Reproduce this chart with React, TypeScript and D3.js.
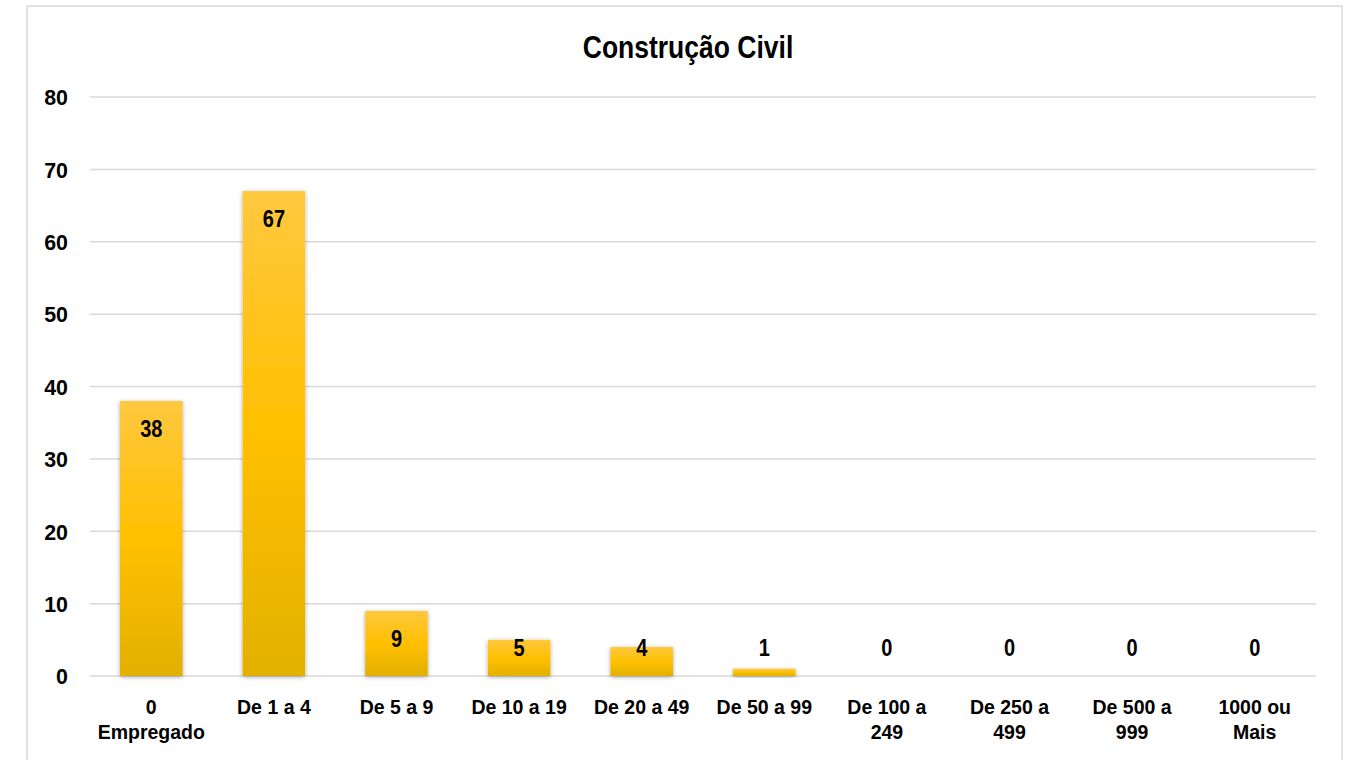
import React from "react";
import * as d3 from "d3";

const title = "Construção Civil";
const categories = [
  ["0", "Empregado"],
  ["De 1 a 4"],
  ["De 5 a 9"],
  ["De 10 a 19"],
  ["De 20 a 49"],
  ["De 50 a 99"],
  ["De 100 a", "249"],
  ["De 250 a", "499"],
  ["De 500 a", "999"],
  ["1000 ou", "Mais"],
];
const values = [38, 67, 9, 5, 4, 1, 0, 0, 0, 0];
const yTicks = [0, 10, 20, 30, 40, 50, 60, 70, 80];

const W = 1352;
const H = 760;
const FONT = "'Liberation Sans', Arial, sans-serif";

function T({ x, y, sx = 1, size, anchor = "middle", dy, children }: any) {
  return (
    <text
      transform={`translate(${x},${y}) scale(${sx},1)`}
      dy={dy}
      textAnchor={anchor}
      fontFamily={FONT}
      fontWeight="bold"
      fontSize={size}
      fill="#000"
    >
      {children}
    </text>
  );
}

export default function App() {
  const margin = { left: 90, right: 1316, top: 97, bottom: 676 };
  const x = d3
    .scaleBand<number>()
    .domain(d3.range(categories.length))
    .range([margin.left, margin.right])
    .paddingInner(0.49)
    .paddingOuter(0.245);
  const y = d3.scaleLinear().domain([0, 80]).range([margin.bottom, margin.top]);
  const cx = (i: number) => (x(i) as number) + x.bandwidth() / 2;

  return (
    <div style={{ position: "absolute", left: 0, top: 0 }}>
      <svg width={W} height={H} style={{ display: "block" }}>
        <defs>
          <linearGradient id="barGrad" x1="0" y1="0" x2="0" y2="1">
            <stop offset="0%" stopColor="#FFC83F" />
            <stop offset="50%" stopColor="#FFC000" />
            <stop offset="100%" stopColor="#E2B000" />
          </linearGradient>
          <filter id="shadow" x="-20%" y="-20%" width="140%" height="140%">
            <feDropShadow dx="0" dy="1" stdDeviation="2" floodColor="#000" floodOpacity="0.35" />
          </filter>
        </defs>
        <rect x={0} y={0} width={W} height={H} fill="#fff" />
        <rect x={27} y={6} width={1315} height={770} fill="#fff" stroke="#D9D9D9" strokeWidth={1.5} />
        <T x={688} y={58} sx={0.855} size={31}>
          {title}
        </T>
        {yTicks.map((t) => (
          <g key={t}>
            <line x1={margin.left} x2={margin.right} y1={y(t)} y2={y(t)} stroke="#D9D9D9" strokeWidth={1.5} />
            <T x={68} y={y(t)} dy="0.36em" sx={0.93} size={23} anchor="end">
              {t}
            </T>
          </g>
        ))}
        {values.map((v, i) =>
          v > 0 ? (
            <rect
              key={"b" + i}
              x={x(i)}
              y={y(v)}
              width={x.bandwidth()}
              height={y(0) - y(v)}
              fill="url(#barGrad)"
              filter="url(#shadow)"
            />
          ) : null
        )}
        {values.map((v, i) => (
          <T key={"l" + i} x={cx(i)} y={Math.min(y(v) + 28, y(0) - 28)} dy="0.36em" sx={0.87} size={23}>
            {v}
          </T>
        ))}
        {categories.map((lines, i) => (
          <text
            key={"c" + i}
            x={cx(i)}
            y={714}
            textAnchor="middle"
            fontFamily={FONT}
            fontWeight="bold"
            fontSize={19.5}
            fill="#000"
          >
            {lines.map((ln, j) => (
              <tspan key={j} x={cx(i)} dy={j === 0 ? 0 : 25}>
                {ln}
              </tspan>
            ))}
          </text>
        ))}
      </svg>
    </div>
  );
}
